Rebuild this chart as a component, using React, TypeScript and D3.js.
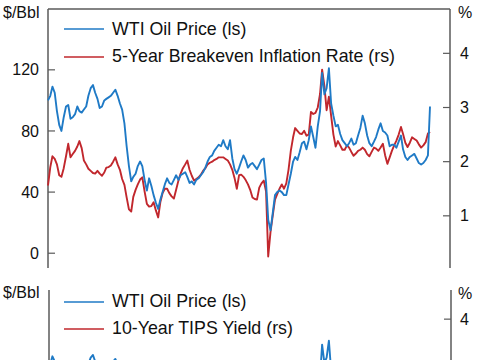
import React from "react";
import * as d3 from "d3";

// Monthly data, Jan 2012 .. Mar 2026
const startMonth = new Date(2012, 0, 1);
const endMonth = new Date(2026, 2, 1);

// WTI oil price, $/bbl (left scale)
const wti: number[] = [
  100, 103, 109, 105, 93, 84, 80, 89, 96, 97, 88, 89,
  91, 96, 93, 92, 94, 96, 103, 108, 110, 105, 101, 95,
  96, 100, 101, 102, 103, 105, 107, 103, 98, 94, 85, 70,
  57, 47, 50, 52, 57, 60, 57, 48, 41, 49, 44, 38,
  33, 29, 35, 40, 45, 49, 46, 45, 48, 51, 48, 51,
  52, 53, 50, 46, 47, 45, 48, 49, 51, 53, 56, 60,
  63, 64, 67, 69, 71, 70, 74, 70, 68, 74, 62, 55,
  52, 56, 60, 64, 61, 56, 58, 59, 57, 55, 58, 61,
  62, 46, 22, 15, 26, 38, 40, 41, 40, 38, 38, 45,
  52, 60, 63, 61, 66, 72, 73, 68, 74, 83, 76, 69,
  83, 93, 118, 104, 108, 121, 98, 90, 83, 84, 78, 74,
  72, 70, 72, 75, 71, 72, 77, 82, 90, 85, 77, 72,
  70, 73, 76, 81, 85, 80, 79, 77, 70, 71, 71, 69,
  73, 77, 68, 63, 61, 63, 64, 65, 62, 59, 58, 59,
  61, 64, 96,
];

// 5-Year breakeven inflation rate, % (right scale)
const breakeven5y: number[] = [
  1.56, 1.9, 2.1, 2.05, 1.95, 1.75, 1.72, 1.88, 2.1, 2.33, 2.08, 2.14,
  2.2, 2.28, 2.38, 2.25, 2.02, 1.95, 1.87, 1.83, 1.79, 1.78, 1.83, 1.78,
  1.74, 1.8, 1.89, 1.9, 1.93, 2.0, 2.08, 1.95, 1.85, 1.68, 1.57, 1.34,
  1.12, 1.08, 1.35, 1.48, 1.58, 1.67, 1.71, 1.45, 1.22, 1.17, 1.18, 1.25,
  1.1, 0.97, 1.25, 1.42, 1.5, 1.5, 1.42, 1.36, 1.32, 1.48, 1.65, 1.78,
  1.88, 1.95, 2.02, 1.85, 1.74, 1.65, 1.68, 1.71, 1.76, 1.83, 1.88, 1.95,
  1.98, 2.0, 2.03, 2.05, 2.08, 2.08, 2.08, 2.05, 2.02, 1.95, 1.85, 1.7,
  1.5, 1.75, 1.76, 1.72, 1.66, 1.58, 1.48, 1.34, 1.31, 1.3, 1.52, 1.6,
  1.65, 1.45, 0.25, 0.7, 1.0, 1.3, 1.4, 1.5, 1.58, 1.5, 1.6, 1.85,
  2.2, 2.45, 2.62, 2.57, 2.52, 2.51, 2.57, 2.48, 2.5, 2.92, 2.88, 2.9,
  3.0, 3.25, 3.7, 3.4, 2.95, 3.2, 2.85, 2.5, 2.28, 2.38, 2.3, 2.22,
  2.22, 2.3, 2.26, 2.18, 2.11, 2.15, 2.2, 2.22, 2.26, 2.22, 2.14, 2.1,
  2.18, 2.26, 2.24, 2.2, 2.26, 2.33, 2.12, 1.96, 2.08, 2.2, 2.3, 2.39,
  2.5, 2.64, 2.51, 2.35, 2.27, 2.35, 2.45, 2.42, 2.39, 2.32, 2.26, 2.3,
  2.36, 2.52, 2.55,
];

// 10-Year TIPS yield, %, quarterly (right scale, lower panel; below the visible area)
const tipsYield: number[] = [
  -0.1, -0.4, -0.7, -0.7,
  -0.6, -0.2, 0.5, 0.7,
  0.6, 0.4, 0.3, 0.4,
  0.2, 0.4, 0.6, 0.7,
  0.5, 0.2, 0.0, 0.3,
  0.4, 0.4, 0.4, 0.5,
  0.6, 0.8, 0.9, 1.0,
  0.8, 0.4, 0.1, 0.1,
  -0.1, -0.4, -0.9, -0.9,
  -0.8, -0.8, -1.0, -1.0,
  -0.5, 0.3, 1.0, 1.5,
  1.3, 1.5, 2.0, 2.1,
  1.9, 2.1, 1.7, 2.0,
  2.1, 2.1, 1.9, 1.8,
  1.8,
];

const leftTicksTop = [0, 40, 80, 120];
const rightTicksTop = [1, 2, 3, 4];
// only the ticks of the lower panel that fall inside the visible crop
const leftTicksBottom: number[] = [];
const rightTicksBottom = [4];

const topLegend = ["WTI Oil Price (ls)", "5-Year Breakeven Inflation Rate (rs)"];
const bottomLegend = ["WTI Oil Price (ls)", "10-Year TIPS Yield (rs)"];

const BLUE = "#1f7ac6";
const RED = "#c1272d";
const AXIS = "#5a5a5a";
const FONT = "'Liberation Sans', Arial, Helvetica, sans-serif";

const monthDates = wti.map((_, i) => d3.timeMonth.offset(startMonth, i));
const quarterDates = tipsYield.map((_, i) => d3.timeMonth.offset(startMonth, i * 3 + 1));

const X0 = 48;
const X1 = 450;

export default function App() {
  const x = d3.scaleTime().domain([startMonth, endMonth]).range([48, 430]);

  // Top panel scales
  const yL = d3.scaleLinear().domain([-10, 160]).range([268.5, 8.7]);
  const yR = d3.scaleLinear().domain([0, 4.8]).range([270, 10]);
  // Bottom panel scales
  const yL2 = d3.scaleLinear().domain([-10, 160]).range([511, 290]);
  const yR2 = d3.scaleLinear().domain([-1.5, 4.54]).range([616, 290]);

  const lineL = d3
    .line<number>()
    .x((_, i) => x(monthDates[i]))
    .y((d) => yL(d));
  const lineR = d3
    .line<number>()
    .x((_, i) => x(monthDates[i]))
    .y((d) => yR(d));
  const lineL2 = d3
    .line<number>()
    .x((_, i) => x(monthDates[i]))
    .y((d) => yL2(d));
  const lineR2 = d3
    .line<number>()
    .x((_, i) => x(quarterDates[i]))
    .y((d) => yR2(d));

  const textStyle = { fontFamily: FONT, fill: "#111" };

  return (
    <svg
      width={485}
      height={360}
      style={{ position: "absolute", left: 0, top: 0, background: "#fff" }}
    >
      {/* ===== Top panel ===== */}
      <g>
        <line x1={X0} x2={X1} y1={9} y2={9} stroke={AXIS} strokeWidth={1.5} />
        <line x1={X0} x2={X0} y1={9} y2={268} stroke={AXIS} strokeWidth={1.5} />
        <line x1={X1} x2={X1} y1={9} y2={268} stroke={AXIS} strokeWidth={1.5} />
        {leftTicksTop.map((t) => (
          <g key={"lt" + t}>
            <line x1={X0} x2={X0 + 7} y1={yL(t)} y2={yL(t)} stroke={AXIS} strokeWidth={1.2} />
            <text x={39} y={yL(t)} dy="0.35em" textAnchor="end" fontSize={16} style={textStyle}>
              {t}
            </text>
          </g>
        ))}
        {rightTicksTop.map((t) => (
          <g key={"rt" + t}>
            <line x1={X1 - 7} x2={X1} y1={yR(t)} y2={yR(t)} stroke={AXIS} strokeWidth={1.2} />
            <text x={460} y={yR(t)} dy="0.35em" textAnchor="start" fontSize={16} style={textStyle}>
              {t}
            </text>
          </g>
        ))}
        <text x={3} y={18} fontSize={16} style={textStyle}>$/Bbl</text>
        <text x={458} y={18} fontSize={16} style={textStyle}>%</text>

        <path d={lineR(breakeven5y) || ""} fill="none" stroke={RED} strokeWidth={1.9} strokeLinejoin="round" />
        <path d={lineL(wti) || ""} fill="none" stroke={BLUE} strokeWidth={1.9} strokeLinejoin="round" />

        <line x1={64} x2={104} y1={29} y2={29} stroke={BLUE} strokeWidth={1.6} />
        <text x={112} y={34.5} fontSize={17.8} style={textStyle}>{topLegend[0]}</text>
        <line x1={64} x2={104} y1={57} y2={57} stroke={RED} strokeWidth={1.6} />
        <text x={112} y={62} fontSize={17.8} style={textStyle}>{topLegend[1]}</text>
      </g>

      {/* ===== Bottom panel (cropped) ===== */}
      <g>
        <line x1={X0 + 1} x2={X0 + 1} y1={290} y2={620} stroke={AXIS} strokeWidth={1.5} />
        <line x1={X1 + 1} x2={X1 + 1} y1={290} y2={620} stroke={AXIS} strokeWidth={1.5} />
        {leftTicksBottom.map((t) => (
          <g key={"lb" + t}>
            <line x1={X0 + 1} x2={X0 + 8} y1={yL2(t)} y2={yL2(t)} stroke={AXIS} strokeWidth={1.2} />
            <text x={39} y={yL2(t)} dy="0.35em" textAnchor="end" fontSize={16} style={textStyle}>
              {t}
            </text>
          </g>
        ))}
        {rightTicksBottom.map((t) => (
          <g key={"rb" + t}>
            <line x1={X1 - 6} x2={X1 + 1} y1={yR2(t)} y2={yR2(t)} stroke={AXIS} strokeWidth={1.2} />
            <text x={460} y={yR2(t)} dy="0.35em" textAnchor="start" fontSize={16} style={textStyle}>
              {t}
            </text>
          </g>
        ))}
        <text x={3} y={298} fontSize={16} style={textStyle}>$/Bbl</text>
        <text x={458} y={299} fontSize={16} style={textStyle}>%</text>

        <path d={lineR2(tipsYield) || ""} fill="none" stroke={RED} strokeWidth={1.9} strokeLinejoin="round" />
        <path d={lineL2(wti) || ""} fill="none" stroke={BLUE} strokeWidth={1.9} strokeLinejoin="round" />

        <line x1={64} x2={104} y1={302} y2={302} stroke={BLUE} strokeWidth={1.6} />
        <text x={112} y={307} fontSize={17.8} style={textStyle}>{bottomLegend[0]}</text>
        <line x1={64} x2={104} y1={329} y2={329} stroke={RED} strokeWidth={1.6} />
        <text x={112} y={334} fontSize={17.8} style={textStyle}>{bottomLegend[1]}</text>
      </g>
    </svg>
  );
}
